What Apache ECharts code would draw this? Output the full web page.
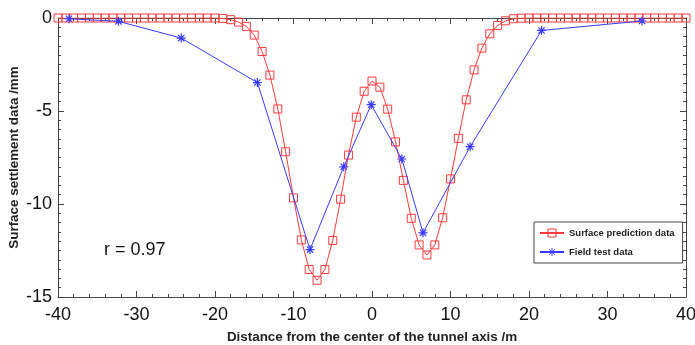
<!DOCTYPE html>
<html>
<head>
<meta charset="utf-8">
<script src="https://cdn.jsdelivr.net/npm/echarts@6/dist/echarts.min.js"></script>
<style>html,body{margin:0;padding:0;background:#fff}#c{width:695px;height:345px}</style>
</head>
<body>
<div id="c"></div>
<script>
var predX = [-40,-39,-38,-37,-36,-35,-34,-33,-32,-31,-30,-29,-28,-27,-26,-25,-24,-23,-22,-21,-20,-19,-18,-17,-16,-15,-14,-13,-12,-11,-10,-9,-8,-7,-6,-5,-4,-3,-2,-1,0,1,2,3,4,5,6,7,8,9,10,11,12,13,14,15,16,17,18,19,20,21,22,23,24,25,26,27,28,29,30,31,32,33,34,35,36,37,38,39,40];
var predY = [0,0,0,0,0,0,0,0,0,0,0,0,0,0,0,0,0,0,0,0,0,-0.02,-0.09,-0.22,-0.45,-0.92,-1.8,-3.07,-4.89,-7.19,-9.67,-11.93,-13.52,-14.1,-13.52,-11.96,-9.74,-7.37,-5.33,-3.94,-3.39,-3.72,-4.9,-6.66,-8.73,-10.77,-12.2,-12.74,-12.2,-10.74,-8.65,-6.47,-4.4,-2.79,-1.62,-0.85,-0.4,-0.15,-0.04,-0.01,0,0,0,0,0,0,0,0,0,0,0,0,0,0,0,0,0,0,0,0,0];
var fieldX = [-38.6,-32.3,-24.3,-14.6,-7.9,-3.6,-0.1,3.8,6.5,12.5,21.6,34.4];
var fieldY = [-0.04,-0.18,-1.08,-3.47,-12.45,-8.0,-4.66,-7.58,-11.55,-6.92,-0.67,-0.16];
var xTicks = [-40,-30,-20,-10,0,10,20,30,40];
var yTicks = [0,-5,-10,-15];
var seriesNames = ['Surface prediction data','Field test data'];
var annotation = 'r = 0.97';

var pred = predX.map(function(x,i){return [x,predY[i]];});
var field = fieldX.map(function(x,i){return [x,fieldY[i]];});
var red = '#ff3b3b', blue = '#3a3aff', frame = '#444';
var star = 'path://M0,-5L0,5M-5,0L5,0M-3.5,-3.5L3.5,3.5M-3.5,3.5L3.5,-3.5';
var font = 'Liberation Sans';

var chart = echarts.init(document.getElementById('c'), null, {renderer:'canvas'});
function axisStyle(split){
  return {
    axisLine:{show:true,onZero:false,lineStyle:{color:frame,width:1}},
    axisTick:{show:true,inside:true,length:6,lineStyle:{color:frame}},
    minorTick:{show:true,splitNumber:split,length:3,lineStyle:{color:frame}},
    splitLine:{show:false}
  };
}
chart.setOption({
  animation:false,
  backgroundColor:'#fff',
  grid:{left:58,right:9,top:18,bottom:48,containLabel:false,outerBoundsMode:'none'},
  legend:{
    orient:'vertical', left:534, top:222,
    data:seriesNames,
    itemWidth:24, itemHeight:10, itemGap:9,
    padding:[6,8,6,5],
    borderColor:'#444', borderWidth:1, backgroundColor:'#fff', borderRadius:0,
    itemStyle:{color:'rgba(255,255,255,0)',borderWidth:1},
    textStyle:{fontFamily:font,fontWeight:'bold',fontSize:9.5,color:'#222'}
  },
  xAxis:[
    Object.assign({type:'value',min:-40,max:40,interval:10,position:'bottom',
      axisLabel:{fontFamily:font,fontSize:18,color:'#111',margin:9},
      name:'Distance from the center of the tunnel axis /m',nameLocation:'middle',nameGap:34,
      nameMoveOverlap:false,
      nameTextStyle:{fontFamily:font,fontWeight:'bold',fontSize:13.4,color:'#222'}
    }, axisStyle(5)),
    Object.assign({type:'value',min:-40,max:40,interval:10,position:'top',
      axisLabel:{show:false}
    }, axisStyle(5))
  ],
  yAxis:[
    Object.assign({type:'value',min:-15,max:0,interval:5,position:'left',
      axisLabel:{fontFamily:font,fontSize:18,color:'#111',margin:6},
      name:'Surface settlement data /mm',nameLocation:'middle',nameGap:37,
      nameMoveOverlap:false,
      nameTextStyle:{fontFamily:font,fontWeight:'bold',fontSize:13.4,color:'#222'}
    }, axisStyle(10)),
    Object.assign({type:'value',min:-15,max:0,interval:5,position:'right',
      axisLabel:{show:false}
    }, axisStyle(10))
  ],
  series:[
    {name:seriesNames[0],type:'line',data:pred,xAxisIndex:0,yAxisIndex:0,
      symbol:'rect',symbolSize:8,
      lineStyle:{color:red,width:1},
      itemStyle:{color:'rgba(255,255,255,0)',borderColor:red,borderWidth:1},
      color:red, z:3},
    {name:seriesNames[1],type:'line',data:field,xAxisIndex:0,yAxisIndex:0,
      symbol:star,symbolSize:9,
      lineStyle:{color:blue,width:1},
      itemStyle:{color:'rgba(0,0,0,0)',borderColor:blue,borderWidth:1.2},
      color:blue, z:4}
  ],
  graphic:[
    {type:'text',left:104,top:241,style:{text:annotation,fontFamily:font,fontSize:18,fill:'#111'}}
  ]
});
</script>
</body>
</html>
